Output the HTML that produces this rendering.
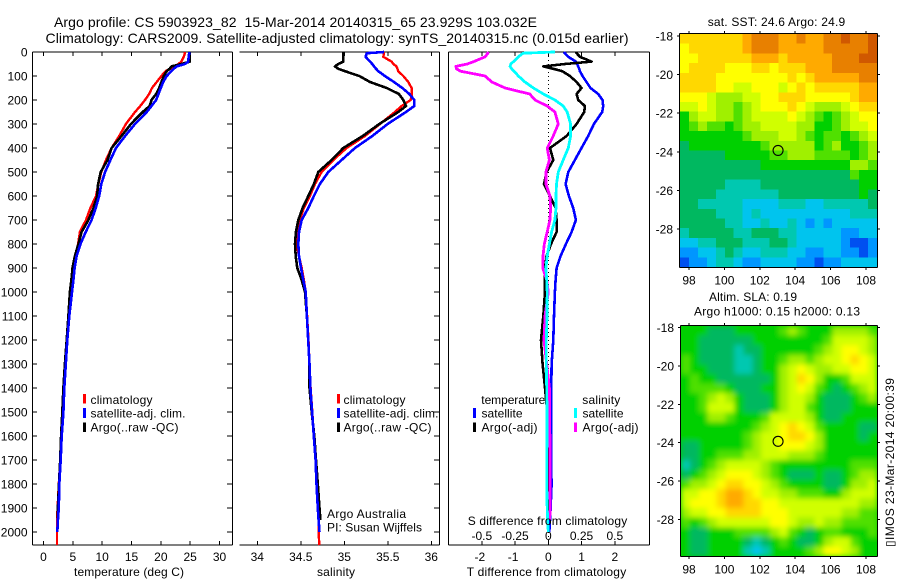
<!DOCTYPE html>
<html>
<head>
<meta charset="utf-8">
<style>
html,body{margin:0;padding:0;background:#fff;}
svg{display:block;}
text{font-family:"Liberation Sans",sans-serif;font-size:12px;fill:#000;}
</style>
</head>
<body>
<svg id="root" xmlns="http://www.w3.org/2000/svg" width="900" height="580" viewBox="0 0 900 580">
  <defs>
    <clipPath id="clip-sst"><rect x="680" y="34" width="197" height="233"/></clipPath>
    <clipPath id="clip-sla"><rect x="681" y="326" width="196" height="230"/></clipPath>
    <filter id="sla-blur" x="-5%" y="-5%" width="110%" height="110%"><feGaussianBlur stdDeviation="2.6"/></filter>
  </defs>
  <rect width="900" height="580" fill="#fff"/>

  <text x="54" y="27" style="font-size:14px" textLength="483" lengthAdjust="spacing" xml:space="preserve">Argo profile: CS 5903923_82  15-Mar-2014 20140315_65 23.929S 103.032E</text>
  <text x="45.5" y="43" style="font-size:14px" textLength="583" lengthAdjust="spacing">Climatology: CARS2009. Satellite-adjusted climatology: synTS_20140315.nc (0.015d earlier)</text>

  <g id="temp-panel"></g>
  <g id="sal-panel"></g>
  <g id="diff-panel"></g>

  <text x="74" y="576" textLength="110" lengthAdjust="spacing">temperature (deg C)</text>
  <text x="317" y="576" textLength="38" lengthAdjust="spacing">salinity</text>
  <text x="466.7" y="576" textLength="159.5" lengthAdjust="spacing">T difference from climatology</text>
  <text x="467.7" y="525" textLength="159.5" lengthAdjust="spacing">S difference from climatology</text>

  <g>
    <rect x="83" y="394" width="3" height="9.5" fill="#ff0000"/>
    <rect x="83" y="408" width="3" height="10" fill="#0000ff"/>
    <rect x="83" y="422.5" width="3" height="9.5" fill="#000"/>
    <text x="90.5" y="404" textLength="62" lengthAdjust="spacing">climatology</text>
    <text x="90.5" y="417.5" textLength="95" lengthAdjust="spacing">satellite-adj. clim.</text>
    <text x="90.5" y="431.5" textLength="88" lengthAdjust="spacing">Argo(..raw -QC)</text>
  </g>
  <g>
    <rect x="337" y="394" width="3" height="9.5" fill="#ff0000"/>
    <rect x="337" y="408" width="3" height="10" fill="#0000ff"/>
    <rect x="337" y="422.5" width="3" height="9.5" fill="#000"/>
    <text x="343.5" y="404" textLength="62" lengthAdjust="spacing">climatology</text>
    <text x="343.5" y="417.5" textLength="95" lengthAdjust="spacing">satellite-adj. clim.</text>
    <text x="343.5" y="431.5" textLength="88" lengthAdjust="spacing">Argo(..raw -QC)</text>
    <text x="327" y="518" textLength="79" lengthAdjust="spacing">Argo Australia</text>
    <text x="327" y="531.7" textLength="95" lengthAdjust="spacing">PI: Susan Wijffels</text>
  </g>
  <g>
    <text x="481.3" y="404" textLength="64" lengthAdjust="spacing">temperature</text>
    <text x="582.3" y="404" textLength="38" lengthAdjust="spacing">salinity</text>
    <rect x="473" y="408" width="3" height="10" fill="#0000ff"/>
    <rect x="473" y="422.5" width="3" height="9.5" fill="#000"/>
    <rect x="574" y="408" width="3" height="10" fill="#00ffff"/>
    <rect x="574" y="422.5" width="3" height="9.5" fill="#ff00ff"/>
    <text x="481.5" y="417.5" textLength="41" lengthAdjust="spacing">satellite</text>
    <text x="481.5" y="431.5" textLength="56" lengthAdjust="spacing">Argo(-adj)</text>
    <text x="582.5" y="417.5" textLength="41" lengthAdjust="spacing">satellite</text>
    <text x="582.5" y="431.5" textLength="56" lengthAdjust="spacing">Argo(-adj)</text>
  </g>

  <text x="707.7" y="26" textLength="137.5" lengthAdjust="spacing">sat. SST: 24.6 Argo: 24.9</text>
  <text x="709" y="301" textLength="88" lengthAdjust="spacing">Altim. SLA: 0.19</text>
  <text x="694" y="315.7" textLength="166" lengthAdjust="spacing">Argo h1000: 0.15 h2000: 0.13</text>

  <g id="sst-map"></g>
  <g id="sla-map"></g>

  <text transform="translate(894,547) rotate(-90)" x="0" y="0" textLength="169" lengthAdjust="spacing" style="font-family:'Liberation Sans','DejaVu Sans',sans-serif">▯IMOS 23-Mar-2014 20:00:39</text>
</svg>

<script>
// ---- profile data ----
const depths = [0,5,20,40,50,60,70,80,100,125,150,175,200,225,250,300,350,400,450,500,550,600,650,700,750,800,850,900,950,1000,1100,1200,1300,1400,1500,1600,1700,1800,1900,1950,2000,2055];
const depthTicks = [0,100,200,300,400,500,600,700,800,900,1000,1100,1200,1300,1400,1500,1600,1700,1800,1900,2000];

const tempClim = [24.1,24.1,23.9,23.5,23.0,22.4,21.6,20.8,20.1,19.3,18.5,18.0,17.3,16.5,15.6,14.05,12.9,11.6,10.65,9.85,9.35,8.95,8.0,7.25,6.2,5.9,5.4,4.95,4.8,4.6,4.3,4.0,3.7,3.4,3.25,3.05,2.85,2.6,2.4,2.3,2.3,2.3];
const tempSat = [24.84,24.84,24.75,24.67,24.1,22.7,22.2,21.8,21.0,20.4,20.0,19.6,19.2,18.4,17.6,15.6,13.9,12.35,11.4,10.5,9.85,9.5,8.9,8.2,7.2,6.3,5.65,5.3,5.1,4.85,4.4,4.05,3.8,3.55,3.4,3.1,2.93,2.7,2.6,2.45,2.35];
const tempArgo = [24.95,24.95,24.95,24.95,23.5,21.8,21.5,21.0,20.5,20.1,19.7,19.2,18.4,18.1,16.9,14.9,13.3,11.6,10.9,9.75,9.3,9.15,8.5,7.65,6.5,5.95,5.35,4.95,4.75,4.5,4.25,3.95,3.65,3.4,3.2,3.0,2.85,2.65,2.45,2.4];
const tempTicks = [0,5,10,15,20,25,30];

const salClim = [35.456,35.456,35.448,35.544,35.563,35.60,35.61,35.62,35.678,35.736,35.774,35.778,35.762,35.659,35.582,35.41,35.238,35.027,34.874,34.739,34.663,34.605,34.536,34.49,34.46,34.452,34.479,34.51,34.536,34.556,34.572,34.588,34.6,34.613,34.632,34.651,34.67,34.686,34.70,34.703,34.705,34.713];
const salSat = [35.456,35.257,35.245,35.295,35.322,35.341,35.364,35.391,35.467,35.571,35.667,35.747,35.805,35.805,35.709,35.498,35.322,35.123,34.969,34.816,34.72,34.651,34.586,34.51,34.479,34.471,34.479,34.502,34.529,34.556,34.57,34.585,34.6,34.61,34.63,34.65,34.67,34.68,34.695,34.705,34.715];
const salArgo = [34.989,34.989,34.989,34.989,34.931,34.893,34.931,35.008,35.172,35.295,35.487,35.628,35.678,35.709,35.621,35.402,35.211,34.989,34.854,34.701,34.651,34.586,34.521,34.471,34.444,34.433,34.441,34.46,34.51,34.548,34.57,34.585,34.6,34.6,34.625,34.655,34.675,34.695,34.715,34.725];
const salTicks = [34,34.5,35,35.5,36];

const diffTSat = [0.47,0.5,0.6,0.83,0.87,0.9,0.93,0.95,1.03,1.15,1.27,1.5,1.63,1.65,1.62,1.37,1.2,1.0,0.8,0.6,0.52,0.62,0.75,0.83,0.7,0.53,0.37,0.25,0.22,0.2,0.17,0.15,0.1,0.09,0.08,0.08,0.08,0.1,0.07,0.05,0.03];
const diffTArgo = [0.83,0.85,0.95,1.3,0.5,-0.15,0.15,0.42,0.65,0.85,1.0,0.85,0.9,1.1,1.08,0.85,0.55,0.05,0.15,-0.05,-0.13,0.05,0.22,0.25,0.25,0.08,-0.05,-0.1,-0.1,-0.1,-0.15,-0.22,-0.17,-0.1,-0.03,0,0,0,0,0];
const diffSSat = [0.05,-0.19,-0.225,-0.262,-0.282,-0.287,-0.275,-0.258,-0.225,-0.175,-0.112,-0.037,0.05,0.112,0.142,0.168,0.168,0.15,0.112,0.075,0.062,0.058,0.058,0.05,0.025,0.008,-0.008,-0.018,-0.012,-0.008,-0.01,-0.015,-0.015,-0.012,-0.01,-0.01,-0.012,-0.012,-0.008,-0.005,0];
const diffSArgo = [-0.45,-0.455,-0.475,-0.56,-0.61,-0.695,-0.69,-0.66,-0.475,-0.425,-0.325,-0.14,-0.1,-0.008,0.05,0.075,0.037,-0.008,0.008,-0.018,-0.018,0.012,0.018,0.012,-0.008,-0.03,-0.04,-0.042,-0.012,0,-0.025,-0.032,-0.012,0.008,0.008,0.012,0.012,0.012,0.015,0.01];
const diffTTicks = [-2,-1,0,1,2];
const diffSTicks = [-0.5,-0.25,0,0.25,0.5];

// ---- map data: colour-scale levels (0 deep blue ... 14 dark orange), rows north to south ----
const lonTicks = [98,100,102,104,106,108];
const latTicks = [-18,-20,-22,-24,-26,-28];
const floatLon = 103.032;
const floatLat = -23.929;
const colourLevels = ['#0000c8','#0050f0','#0096ff','#00c4ee','#00c8b0','#00b860','#00d000','#50e000','#a0f000','#d0ff00','#ffff00','#ffd800','#ffaa00','#e88000','#d05800'];

const sstLevels = [
[11,11,11,11,11,11,11,12,13,13,13,12,12,13,12,12,13,13,14,13,13,14],
[10,11,11,11,11,11,11,12,13,13,13,12,12,12,12,12,13,13,13,13,13,14],
[10,10,11,11,11,11,11,11,12,12,12,11,12,12,12,12,12,13,13,13,14,14],
[10,11,11,11,11,10,10,10,11,11,10,11,11,11,12,12,12,13,13,13,13,13],
[11,11,11,11,10,10,10,10,10,10,10,10,11,10,11,12,12,12,12,12,13,13],
[11,11,11,11,10,10,9,9,10,10,10,9,10,11,10,11,11,11,11,11,12,12],
[10,10,10,9,8,8,8,9,9,10,10,11,11,11,10,10,10,10,10,11,12,12],
[9,9,10,9,8,8,7,8,9,10,10,10,11,10,9,8,8,8,9,10,11,11],
[6,8,9,9,8,8,7,8,9,9,9,9,10,9,8,7,6,7,8,9,10,10],
[6,7,8,7,7,6,7,8,8,9,9,9,9,8,8,6,6,7,8,9,9,10],
[6,6,6,6,6,6,6,7,8,8,8,9,9,8,7,6,7,7,6,7,8,9],
[5,6,6,6,6,6,6,6,6,7,8,8,8,8,8,6,7,8,6,6,7,8],
[5,5,5,5,5,6,6,6,6,6,7,7,8,8,8,7,7,7,7,6,7,8],
[5,5,5,5,5,5,5,5,5,6,6,6,6,6,6,6,6,6,6,8,8,7],
[5,5,5,5,5,5,5,5,5,5,5,5,5,5,5,5,5,5,5,7,6,6],
[5,5,5,5,5,4,4,4,4,5,5,5,5,5,5,5,5,5,5,5,6,6],
[5,5,5,5,4,4,4,4,4,4,4,5,5,5,5,5,5,5,5,5,6,5],
[5,5,4,4,4,4,4,3,3,3,3,4,4,4,3,3,4,4,4,4,4,5],
[5,5,5,5,4,4,4,3,4,3,3,3,3,3,3,3,3,3,3,4,4,4],
[5,5,5,5,5,4,4,3,3,4,3,3,4,3,2,3,2,3,3,3,3,3],
[4,5,5,5,5,5,4,4,5,5,5,4,4,3,3,3,3,3,2,2,3,3],
[3,3,4,4,5,5,5,4,4,4,5,5,4,3,3,3,3,3,2,1,1,2],
[2,2,3,3,4,5,4,3,3,4,4,4,3,3,2,2,3,3,2,2,1,2],
[1,2,2,3,4,4,3,2,2,3,3,3,3,2,2,1,2,2,3,3,3,3]
];

const slaLevels = [
[6,6,6,5,5,5,6,6,6,6,6,7,8,7,6,6,6,8,8,8,8,7],
[6,6,5,5,5,5,5,5,6,6,6,6,6,6,6,6,7,9,9,9,9,8],
[6,6,5,5,5,5,4,5,5,6,6,6,6,6,6,7,8,9,10,10,9,8],
[7,6,5,5,5,5,4,4,5,6,6,7,8,8,7,8,9,9,10,11,10,9],
[7,6,6,5,5,5,4,4,5,6,6,8,9,10,9,8,8,9,9,10,10,9],
[6,7,6,6,5,5,5,5,5,5,6,8,9,11,10,8,6,6,7,9,9,9],
[6,7,7,7,7,6,5,5,5,6,6,8,9,10,9,7,6,5,6,7,8,9],
[6,6,7,8,9,8,6,5,5,5,6,8,9,9,8,6,5,5,5,6,7,8],
[6,6,7,9,9,9,6,5,5,5,6,8,9,9,7,6,5,5,5,6,6,6],
[6,6,6,8,8,7,6,6,6,7,9,9,9,9,8,6,5,5,6,6,6,6],
[6,6,6,6,6,6,6,6,7,8,9,10,11,10,9,7,6,6,6,6,5,5],
[6,6,6,6,6,6,6,7,8,9,9,10,11,11,10,8,6,6,6,6,5,6],
[5,5,6,6,6,6,6,7,8,9,9,10,10,10,9,8,6,6,6,6,6,6],
[5,5,6,6,7,7,7,8,8,9,9,9,8,8,8,7,6,6,6,6,6,6],
[4,5,6,7,8,9,9,9,9,8,7,6,6,6,6,6,6,6,6,7,7,7],
[5,6,7,8,9,10,10,10,9,8,7,6,5,5,5,6,5,5,6,7,8,8],
[7,8,8,9,10,11,11,10,10,9,8,7,6,6,6,6,5,5,6,8,8,9],
[9,9,10,10,11,12,12,11,10,9,9,8,8,7,7,7,6,6,8,9,9,9],
[9,10,10,10,11,12,12,11,11,10,10,9,9,9,9,9,9,9,9,9,8,8],
[8,9,9,10,10,11,11,11,11,10,10,10,9,9,9,9,9,9,8,8,7,7],
[7,6,7,8,9,9,9,9,9,9,10,10,9,8,8,9,8,8,7,7,7,7],
[6,5,5,6,6,6,7,7,7,7,8,9,7,6,5,6,7,7,6,6,6,7],
[6,5,5,6,6,6,6,5,4,5,6,7,6,5,5,6,8,9,9,7,6,6],
[6,5,5,6,6,6,6,4,3,4,6,6,6,6,7,8,10,10,9,8,6,6]
];

const NS = 'http://www.w3.org/2000/svg';
function mk(tag, attrs, parent, txt){
  const el = document.createElementNS(NS, tag);
  for (const k in attrs) el.setAttribute(k, attrs[k]);
  if (txt !== undefined) el.textContent = txt;
  parent.appendChild(el);
  return el;
}
function seg(parent, x1, y1, x2, y2, name){
  const el = mk('line', {x1:x1, y1:y1, x2:x2, y2:y2, stroke:'#000', 'stroke-width':1, 'shape-rendering':'crispEdges'}, parent);
  
  
  return el;
}
function label(parent, x, y, anchor, txt, name){
  const el = mk('text', {x:x, y:y, 'text-anchor':anchor}, parent, txt);
  
  
  return el;
}

// ---- shared depth axis ----
const depthTop = 52, depthBottom = 545, depthMax = 2054;
const yDepth = d => depthTop + (depthBottom - depthTop) * d / depthMax;

function profile(parent, xScale, values, colour, width, name){
  const pts = values.map((v, i) => xScale(v).toFixed(1) + ',' + yDepth(depths[i]).toFixed(1)).join(' ');
  const el = mk('polyline', {points:pts, fill:'none', stroke:colour, 'stroke-width':width, 'stroke-linejoin':'round', 'shape-rendering':'crispEdges'}, parent);
  
  
}

// ---- temperature panel ----
const tempG = document.getElementById('temp-panel');
const xTemp = t => 43.5 + 5.867 * t;
seg(tempG, 32.5, 52, 32.5, 545, 'temperature-left-axis');
seg(tempG, 232.5, 52, 232.5, 545, 'temperature-right-axis');
seg(tempG, 32.5, 52, 232.5, 52, 'temperature-top-axis');
seg(tempG, 32.5, 545, 232.5, 545, 'temperature-bottom-axis');
depthTicks.forEach(d => {
  seg(tempG, 32.5, yDepth(d), 37, yDepth(d), 'depth-tick-left');
  seg(tempG, 227, yDepth(d), 232.5, yDepth(d), 'depth-tick-right');
  label(tempG, 27.5, yDepth(d) + 4.5, 'end', String(d), 'depth-tick-label');
});
tempTicks.forEach(t => {
  seg(tempG, xTemp(t), 52, xTemp(t), 56, 'temperature-tick-top');
  seg(tempG, xTemp(t), 541, xTemp(t), 545, 'temperature-tick-bottom');
  label(tempG, xTemp(t), 561, 'middle', String(t), 'temperature-tick-label');
});
profile(tempG, xTemp, tempClim, '#ff0000', 2.4, 'temperature-climatology-line');
profile(tempG, xTemp, tempArgo, '#000000', 2.6, 'temperature-argo-line');
profile(tempG, xTemp, tempSat, '#0000ff', 2.6, 'temperature-satellite-line');

// ---- salinity panel ----
const salG = document.getElementById('sal-panel');
const xSal = s => 257.3 + 87 * (s - 34);
seg(salG, 239.5, 52, 439.5, 52, 'salinity-top-axis');
seg(salG, 239.5, 545, 439.5, 545, 'salinity-bottom-axis');
seg(salG, 439.5, 52, 439.5, 545, 'salinity-right-axis');
depthTicks.forEach(d => {
  seg(salG, 434, yDepth(d), 439.5, yDepth(d), 'depth-tick-right');
});
salTicks.forEach(s => {
  seg(salG, xSal(s), 52, xSal(s), 56, 'salinity-tick-top');
  seg(salG, xSal(s), 541, xSal(s), 545, 'salinity-tick-bottom');
  label(salG, xSal(s), 561, 'middle', String(s), 'salinity-tick-label');
});
profile(salG, xSal, salClim, '#ff0000', 2.4, 'salinity-climatology-line');
profile(salG, xSal, salArgo, '#000000', 2.6, 'salinity-argo-line');
profile(salG, xSal, salSat, '#0000ff', 2.6, 'salinity-satellite-line');

// ---- difference panel ----
const diffG = document.getElementById('diff-panel');
const xDiffT = t => 548.3 + 33.25 * t;
const xDiffS = s => 548.3 + 133 * s;
seg(diffG, 448.5, 52, 448.5, 545, 'difference-left-axis');
seg(diffG, 649.5, 52, 649.5, 545, 'difference-right-axis');
seg(diffG, 448.5, 52, 649.5, 52, 'difference-top-axis');
seg(diffG, 448.5, 545, 649.5, 545, 'difference-bottom-axis');
diffTTicks.forEach(t => {
  seg(diffG, xDiffT(t), 52, xDiffT(t), 56, 't-difference-tick-top');
  seg(diffG, xDiffT(t), 541, xDiffT(t), 545, 't-difference-tick-bottom');
  label(diffG, xDiffT(t) + (t < 0 ? -2 : 0), 561, 'middle', String(t), 't-difference-tick-label');
});
diffSTicks.forEach(s => {
  label(diffG, xDiffS(s), 540, 'middle', String(s), 's-difference-tick-label');
});
const zeroLine = mk('line', {x1:xDiffT(0), y1:52, x2:xDiffT(0), y2:545, stroke:'#000', 'stroke-width':1, 'stroke-dasharray':'1 3', 'shape-rendering':'crispEdges'}, diffG);


profile(diffG, xDiffT, diffTSat, '#0000ff', 2.6, 't-difference-satellite-line');
profile(diffG, xDiffT, diffTArgo, '#000000', 2.6, 't-difference-argo-line');
profile(diffG, xDiffS, diffSArgo, '#ff00ff', 2.8, 's-difference-argo-line');
profile(diffG, xDiffS, diffSSat, '#00ffff', 2.8, 's-difference-satellite-line');

// ---- maps ----
function drawMap(group, levels, box, latAt18, pxPerLat, clipId, blur, cellName){
  const xLon = lon => 689 + 17.7 * (lon - 98);
  const yLat = lat => latAt18 + pxPerLat * (-18 - lat);
  const clip = mk('g', {'clip-path':'url(#' + clipId + ')'}, group);
  
  
  const base = mk('rect', {x:box.l, y:box.t, width:box.r - box.l, height:box.b - box.t, fill:colourLevels[6]}, clip);
  
  
  const cells = mk('g', blur ? {filter:'url(#sla-blur)'} : {}, clip);
  
  
  const nRows = levels.length, nCols = levels[0].length;
  const cw = (box.r - box.l) / nCols, ch = (box.b - box.t) / nRows;
  levels.forEach((row, j) => {
    row.forEach((lv, i) => {
      const cell = mk('rect', {x:(box.l + i * cw).toFixed(2), y:(box.t + j * ch).toFixed(2), width:(cw + 0.6).toFixed(2), height:(ch + 0.6).toFixed(2), fill:colourLevels[lv], 'shape-rendering':'crispEdges'}, cells);
      
      
    });
  });
  seg(group, box.l - 0.5, box.t - 0.5, box.r + 0.5, box.t - 0.5, 'map-top-axis');
  seg(group, box.l - 0.5, box.b + 0.5, box.r + 0.5, box.b + 0.5, 'map-bottom-axis');
  seg(group, box.l - 0.5, box.t - 0.5, box.l - 0.5, box.b + 0.5, 'map-left-axis');
  seg(group, box.r + 0.5, box.t - 0.5, box.r + 0.5, box.b + 0.5, 'map-right-axis');
  lonTicks.forEach(lon => {
    seg(group, xLon(lon), box.t - 3, xLon(lon), box.t, 'longitude-tick-top');
    seg(group, xLon(lon), box.b, xLon(lon), box.b + 3, 'longitude-tick-bottom');
    label(group, xLon(lon), box.b + 17.5, 'middle', String(lon), 'longitude-tick-label');
  });
  latTicks.forEach(lat => {
    seg(group, box.l - 3, yLat(lat), box.l, yLat(lat), 'latitude-tick-left');
    seg(group, box.r, yLat(lat), box.r + 3, yLat(lat), 'latitude-tick-right');
    label(group, box.l - 7, yLat(lat) + 4.5, 'end', String(lat), 'latitude-tick-label');
  });
  const marker = mk('circle', {cx:xLon(floatLon), cy:yLat(floatLat), r:5, fill:'none', stroke:'#000', 'stroke-width':1.1}, group);
  
  
}
drawMap(document.getElementById('sst-map'), sstLevels, {l:680, t:34, r:877, b:267}, 36, 19.3, 'clip-sst', false, 'sst-cell');
drawMap(document.getElementById('sla-map'), slaLevels, {l:681, t:326, r:877, b:556}, 327.7, 19.17, 'clip-sla', true, 'sla-cell');
</script>
</body>
</html>
